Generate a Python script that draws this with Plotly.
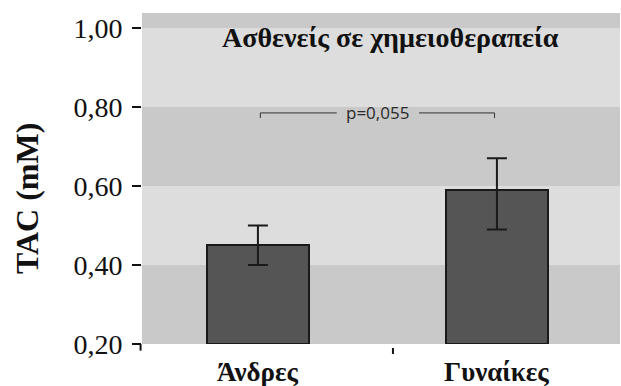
import plotly.graph_objects as go

categories = ["Άνδρες", "Γυναίκες"]
means = [0.45, 0.59]
err_plus = [0.05, 0.08]
err_minus = [0.05, 0.10]
y_ticks = [0.20, 0.40, 0.60, 0.80, 1.00]
title_text = "Ασθενείς σε χημειοθεραπεία"
y_title = "TAC (mM)"
p_text = "p=0,055"
bracket_y = 0.785

x_pos = [0, 1]

fig = go.Figure()
fig.add_trace(go.Bar(
    x=x_pos, y=[m - 0.2 for m in means], base=0.2, width=0.43,
    marker=dict(color="#555555", line=dict(color="#1a1a1a", width=2)),
    error_y=dict(type="data", symmetric=False, array=err_plus, arrayminus=err_minus,
                 color="#1a1a1a", thickness=2, width=10),
    showlegend=False, hoverinfo="skip",
))

serif = "Liberation Serif, Times New Roman, serif"

# background bands
bands = [(0.2, 0.4, "#c9c9c9"), (0.4, 0.6, "#dddddd"), (0.6, 0.8, "#c9c9c9"),
         (0.8, 1.0, "#dddddd"), (1.0, 1.04, "#c9c9c9")]
for y0, y1, c in bands:
    fig.add_shape(type="rect", xref="paper", yref="y", x0=0, x1=1, y0=y0, y1=y1,
                  fillcolor=c, line_width=0, layer="below")

# significance bracket
lc = "#333333"
fig.add_shape(type="line", xref="x", yref="y", x0=0.01, x1=0.01, y0=bracket_y - 0.013, y1=bracket_y,
              line=dict(color=lc, width=1))
fig.add_shape(type="line", xref="x", yref="y", x0=0.01, x1=0.33, y0=bracket_y, y1=bracket_y,
              line=dict(color=lc, width=1))
fig.add_shape(type="line", xref="x", yref="y", x0=0.674, x1=0.99, y0=bracket_y, y1=bracket_y,
              line=dict(color=lc, width=1))
fig.add_shape(type="line", xref="x", yref="y", x0=0.99, x1=0.99, y0=bracket_y - 0.013, y1=bracket_y,
              line=dict(color=lc, width=1))
fig.add_annotation(x=0.5, y=bracket_y, xref="x", yref="y", text=p_text, showarrow=False,
                   font=dict(family="Open Sans, sans-serif", size=17, color="#2a2a2a"))

# title inside plot
fig.add_annotation(x=0.556, y=0.977, xref="x", yref="y", text="<b>" + title_text + "</b>",
                   showarrow=False, font=dict(family=serif, size=28, color="#111111"))

# y axis title
fig.add_annotation(x=-0.2406, y=0.441, xref="paper", yref="paper", text="<b>" + y_title + "</b>",
                   xanchor="center", yanchor="middle",
                   textangle=-90, showarrow=False, font=dict(family=serif, size=32, color="#111111"))

# x category labels
for xp, c in zip(x_pos, categories):
    fig.add_annotation(x=xp, y=0, xref="x", yref="paper", xanchor="center", yanchor="middle",
                       yshift=-28, text="<b>" + c + "</b>", showarrow=False,
                       font=dict(family=serif, size=27, color="#111111"))

# small tick mark between categories
fig.add_shape(type="line", xref="x", yref="paper", x0=0.565, x1=0.565, y0=-0.012, y1=-0.03,
              line=dict(color="#111111", width=2))
# small hook at the axis origin
fig.add_shape(type="line", xref="paper", yref="paper", x0=-0.003, x1=-0.003, y0=0, y1=-0.02,
              line=dict(color="#111111", width=2))

fig.update_layout(
    width=621, height=386,
    margin=dict(l=142, r=1, t=13, b=42),
    paper_bgcolor="white", plot_bgcolor="#dddddd",
    separators=",.",
    bargap=0,
    hovermode=False,
    xaxis=dict(range=[-0.485, 1.515], showticklabels=False, showgrid=False, zeroline=False,
               ticks="", showline=False, fixedrange=True),
    yaxis=dict(range=[0.2, 1.038], tickvals=y_ticks, tickformat=".2f", ticks="outside",
               ticklen=9, tickwidth=2, tickcolor="#111111", showgrid=False, zeroline=False,
               showline=False, ticklabelstandoff=4, fixedrange=True,
               tickfont=dict(family=serif, size=28, color="#111111")),
)

fig.write_html("out.html", config={"displayModeBar": False},
               post_script="document.body.style.margin='0px';document.body.style.overflow='hidden';")
